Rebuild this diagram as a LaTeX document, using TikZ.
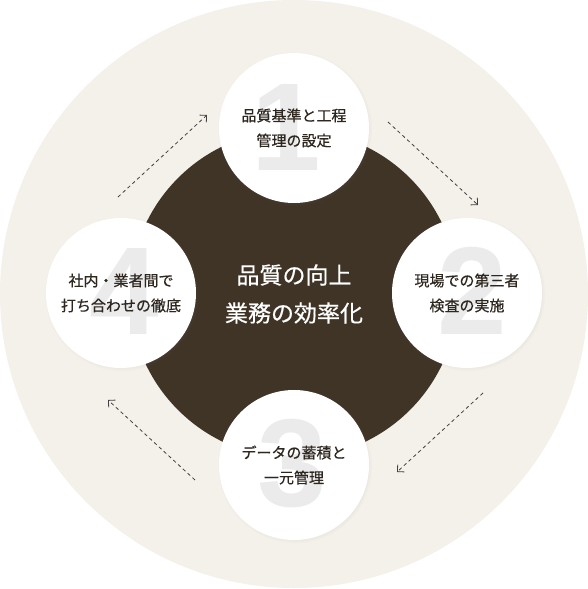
\documentclass[tikz,border=0pt]{standalone}
\usepackage{fontspec}
\newfontfamily\jp[FakeBold=0.6]{Noto Sans CJK JP}
\newfontfamily\numfont{Liberation Sans}
\usetikzlibrary{positioning}
\usetikzlibrary{arrows.meta}
\usetikzlibrary{shadows}
\definecolor{beige}{HTML}{F4F1EA}
\definecolor{darkbrown}{HTML}{3F3426}
\definecolor{inktext}{HTML}{2E2720}
\definecolor{numgray}{HTML}{EBEBEB}
\tikzset{
step circle/.style={ % white circles round the centre
circle, fill=white, minimum size=150pt, inner sep=0pt,
circular drop shadow={shadow xshift=1pt, shadow yshift=-1pt, shadow scale=1.03, opacity=0.2}},
step text/.style={font=\jp\fontsize{15}{25}\selectfont, text=inktext, align=center},
big number/.style={
font=\numfont\bfseries\fontsize{125}{125}\selectfont, text=numgray},
flow/.style={ % dashed arrows between steps
draw=black!75, dash pattern=on 3.5pt off 3pt, line width=0.8pt,
-{Straight Barb[length=5pt, width=10pt]}}}

\begin{document}
\begin{tikzpicture}[x=1pt, y=-1pt]
	\useasboundingbox (0,0) rectangle (588,589);
	\fill[beige] (294,294) circle (294);
	\node[circle, fill=darkbrown, minimum size=328pt, inner sep=0pt,
		font=\jp\fontsize{23}{38}\selectfont, text=white, align=center]
		(core) at (294,294) {品質の向上\\業務の効率化};
	\node[step circle] (s1) at (294,128) {};
	\node[step circle] (s2) at (467,293) {};
	\node[step circle] (s3) at (294,465) {};
	\node[step circle] (s4) at (121,293) {};
	\node[big number] (n1) at (286,127) {1};
	\node[big number] (n2) at (472,291) {2};
	\node[big number] (n3) at (292,464) {3};
	\node[big number] (n4) at (124,291) {4};
	\node[step text] (t1) at (s1) {品質基準と工程\\管理の設定};
	\node[step text] (t2) at (s2) {現場での第三者\\検査の実施};
	\node[step text] (t3) at (s3) {データの蓄積と\\一元管理};
	\node[step text] (t4) at (s4) {社内・業者間で\\打ち合わせの徹底};
	\coordinate (a1) at (118,197);
	\coordinate (b1) at (207,115);
	\coordinate (a2) at (388,122);
	\coordinate (b2) at (478,205);
	\coordinate (a3) at (483,393);
	\coordinate (b3) at (397,472);
	\coordinate (a4) at (195,480);
	\coordinate (b4) at (108,400);
	\draw[flow] (a1) -- (b1);
	\draw[flow] (a2) -- (b2);
	\draw[flow] (a3) -- (b3);
	\draw[flow] (a4) -- (b4);
\end{tikzpicture}
\end{document}
